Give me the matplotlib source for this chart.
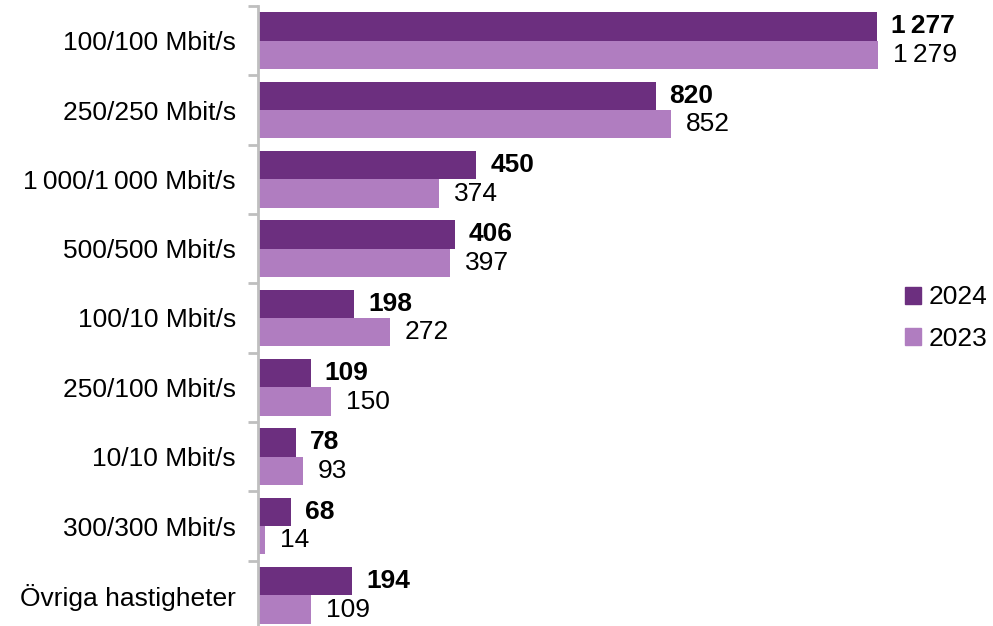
import matplotlib
matplotlib.use("Agg")
import matplotlib.pyplot as plt
import numpy as np
from matplotlib.patches import Patch

plt.rcParams['font.family'] = ['Liberation Sans', 'DejaVu Sans']

categories = ["100/100 Mbit/s", "250/250 Mbit/s", "1\u2009000/1\u2009000 Mbit/s", "500/500 Mbit/s",
              "100/10 Mbit/s", "250/100 Mbit/s", "10/10 Mbit/s", "300/300 Mbit/s", "Övriga hastigheter"]
values_2024 = [1277, 820, 450, 406, 198, 109, 78, 68, 194]
values_2023 = [1279, 852, 374, 397, 272, 150, 93, 14, 109]
series_labels = ["2024", "2023"]

c24 = "#6C2F7F"
c23 = "#B07DC0"

def fmt(v):
    return f"{v:,}".replace(",", "\u2009")

fig = plt.figure(figsize=(9.93, 6.26), dpi=100)
ax = fig.add_axes([258/993, (626-630)/626, 1 - 258/993, 624/626])

n = len(categories)
y = np.arange(n)
h = 0.41
ax.barh(y - h/2, values_2024, height=h, color=c24, align='center')
ax.barh(y + h/2, values_2023, height=h, color=c23, align='center')

ax.set_ylim(n - 0.5, -0.5)
ax.set_xlim(0, 1516)

for i in range(n):
    ax.annotate(fmt(values_2024[i]), (values_2024[i], y[i] - h/2), xytext=(14, 0),
                textcoords='offset pixels', va='center', ha='left', fontsize=19, fontweight='bold')
    ax.annotate(fmt(values_2023[i]), (values_2023[i], y[i] + h/2), xytext=(15, 0),
                textcoords='offset pixels', va='center', ha='left', fontsize=19)

ax.set_yticks(y)
ax.set_yticklabels(categories, fontsize=19)
ax.tick_params(axis='y', which='major', length=0, pad=16)
ax.set_yticks(np.arange(-0.5, n + 0.5, 1), minor=True)
ax.tick_params(axis='y', which='minor', length=7, width=2, color="#BFBFBF", direction='out')
ax.set_xticks([])

for s in ['top', 'right', 'bottom']:
    ax.spines[s].set_visible(False)
ax.spines['left'].set_color("#BFBFBF")
ax.spines['left'].set_linewidth(2)

handles = [Patch(color=c24, label=series_labels[0]), Patch(color=c23, label=series_labels[1])]
fig.legend(handles=handles, loc='center left', bbox_to_anchor=(905/993, 1 - 318/626),
           frameon=False, fontsize=19, handlelength=0.6, handleheight=0.6, handletextpad=0.3,
           labelspacing=0.65, borderpad=0, borderaxespad=0)

fig.savefig("out.png", dpi=100)
